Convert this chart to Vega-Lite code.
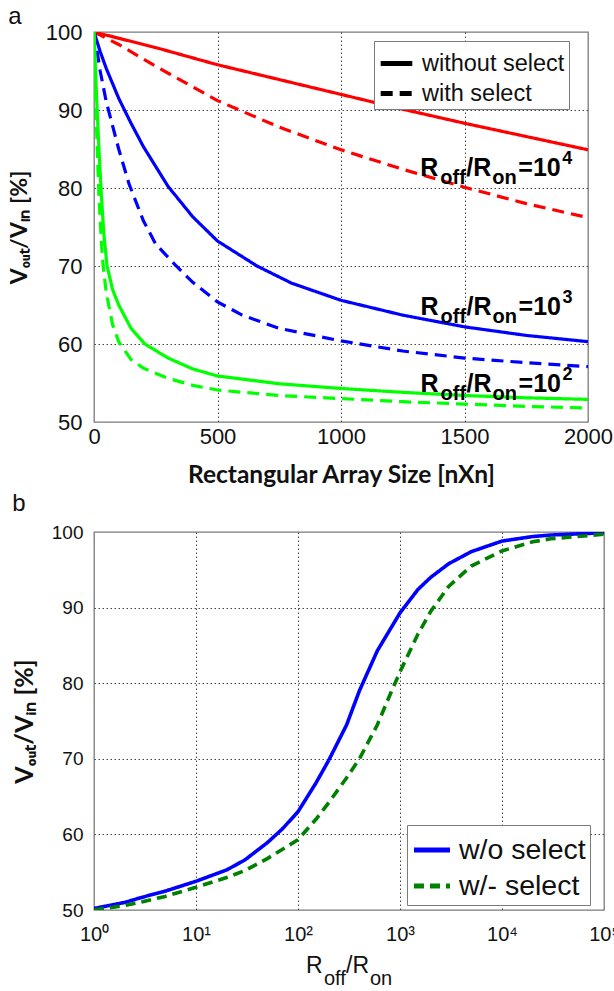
{
  "$schema": "https://vega.github.io/schema/vega-lite/v6.json",
  "padding": {"left": 7, "top": 4, "right": 0, "bottom": 0},
  "background": "white",
  "spacing": 3,
  "columns": 1,
  "align": "none",
  "resolve": {
    "scale": {"color": "independent", "strokeDash": "independent", "x": "independent", "y": "independent"},
    "legend": {"color": "independent", "strokeDash": "independent"}
  },
  "config": {
    "font": "Liberation Sans",
    "view": {"stroke": "#7a7a7a", "strokeWidth": 1.3},
    "axis": {
      "grid": true, "gridColor": "#333333", "gridDash": [1.5, 2.5], "gridWidth": 0.9,
      "domain": false, "ticks": false, "labelColor": "#111111", "titleColor": "#111111",
      "labelFont": "Liberation Sans", "labelFlush": false
    },
    "legend": {"strokeColor": "#7a7a7a", "fillColor": "white", "labelFont": "Liberation Sans", "labelColor": "#111111"}
  },
  "datasets": {
    "curvesA": [
      {"r": "1e4", "s": "without select", "n": 0, "v": 100},
      {"r": "1e4", "s": "without select", "n": 250, "v": 98.0},
      {"r": "1e4", "s": "without select", "n": 500, "v": 95.8},
      {"r": "1e4", "s": "without select", "n": 750, "v": 93.9},
      {"r": "1e4", "s": "without select", "n": 1000, "v": 92.0},
      {"r": "1e4", "s": "without select", "n": 1250, "v": 90.1},
      {"r": "1e4", "s": "without select", "n": 1500, "v": 88.3},
      {"r": "1e4", "s": "without select", "n": 1750, "v": 86.6},
      {"r": "1e4", "s": "without select", "n": 2000, "v": 84.9},
      {"r": "1e4", "s": "with select", "n": 0, "v": 100},
      {"r": "1e4", "s": "with select", "n": 100, "v": 98.4},
      {"r": "1e4", "s": "with select", "n": 250, "v": 95.6},
      {"r": "1e4", "s": "with select", "n": 500, "v": 91.2},
      {"r": "1e4", "s": "with select", "n": 750, "v": 87.8},
      {"r": "1e4", "s": "with select", "n": 1000, "v": 84.9},
      {"r": "1e4", "s": "with select", "n": 1250, "v": 82.4},
      {"r": "1e4", "s": "with select", "n": 1500, "v": 80.1},
      {"r": "1e4", "s": "with select", "n": 1750, "v": 78.0},
      {"r": "1e4", "s": "with select", "n": 2000, "v": 76.2},
      {"r": "1e3", "s": "without select", "n": 0, "v": 100},
      {"r": "1e3", "s": "without select", "n": 25, "v": 97.5},
      {"r": "1e3", "s": "without select", "n": 50, "v": 95.3},
      {"r": "1e3", "s": "without select", "n": 100, "v": 91.5},
      {"r": "1e3", "s": "without select", "n": 150, "v": 88.3},
      {"r": "1e3", "s": "without select", "n": 200, "v": 85.3},
      {"r": "1e3", "s": "without select", "n": 300, "v": 80.2},
      {"r": "1e3", "s": "without select", "n": 400, "v": 76.3},
      {"r": "1e3", "s": "without select", "n": 500, "v": 73.2},
      {"r": "1e3", "s": "without select", "n": 660, "v": 70.0},
      {"r": "1e3", "s": "without select", "n": 800, "v": 67.8},
      {"r": "1e3", "s": "without select", "n": 1000, "v": 65.6},
      {"r": "1e3", "s": "without select", "n": 1250, "v": 63.7},
      {"r": "1e3", "s": "without select", "n": 1500, "v": 62.2},
      {"r": "1e3", "s": "without select", "n": 1750, "v": 61.1},
      {"r": "1e3", "s": "without select", "n": 2000, "v": 60.3},
      {"r": "1e3", "s": "with select", "n": 0, "v": 100},
      {"r": "1e3", "s": "with select", "n": 25, "v": 95.0},
      {"r": "1e3", "s": "with select", "n": 50, "v": 91.0},
      {"r": "1e3", "s": "with select", "n": 100, "v": 85.0},
      {"r": "1e3", "s": "with select", "n": 142, "v": 80.5},
      {"r": "1e3", "s": "with select", "n": 200, "v": 75.8},
      {"r": "1e3", "s": "with select", "n": 250, "v": 72.8},
      {"r": "1e3", "s": "with select", "n": 333, "v": 70.0},
      {"r": "1e3", "s": "with select", "n": 400, "v": 67.9},
      {"r": "1e3", "s": "with select", "n": 500, "v": 65.4},
      {"r": "1e3", "s": "with select", "n": 600, "v": 63.7},
      {"r": "1e3", "s": "with select", "n": 750, "v": 62.0},
      {"r": "1e3", "s": "with select", "n": 1000, "v": 60.4},
      {"r": "1e3", "s": "with select", "n": 1250, "v": 59.1},
      {"r": "1e3", "s": "with select", "n": 1500, "v": 58.2},
      {"r": "1e3", "s": "with select", "n": 1750, "v": 57.6},
      {"r": "1e3", "s": "with select", "n": 2000, "v": 57.1},
      {"r": "1e2", "s": "without select", "n": 0, "v": 100},
      {"r": "1e2", "s": "without select", "n": 10, "v": 92.0},
      {"r": "1e2", "s": "without select", "n": 20, "v": 85.0},
      {"r": "1e2", "s": "without select", "n": 30, "v": 79.0},
      {"r": "1e2", "s": "without select", "n": 40, "v": 74.0},
      {"r": "1e2", "s": "without select", "n": 53, "v": 70.0},
      {"r": "1e2", "s": "without select", "n": 75, "v": 67.0},
      {"r": "1e2", "s": "without select", "n": 100, "v": 65.0},
      {"r": "1e2", "s": "without select", "n": 150, "v": 62.0},
      {"r": "1e2", "s": "without select", "n": 206, "v": 60.0},
      {"r": "1e2", "s": "without select", "n": 300, "v": 58.2},
      {"r": "1e2", "s": "without select", "n": 400, "v": 56.8},
      {"r": "1e2", "s": "without select", "n": 500, "v": 55.9},
      {"r": "1e2", "s": "without select", "n": 750, "v": 54.9},
      {"r": "1e2", "s": "without select", "n": 1000, "v": 54.3},
      {"r": "1e2", "s": "without select", "n": 1250, "v": 53.8},
      {"r": "1e2", "s": "without select", "n": 1500, "v": 53.4},
      {"r": "1e2", "s": "without select", "n": 1750, "v": 53.1},
      {"r": "1e2", "s": "without select", "n": 2000, "v": 52.9},
      {"r": "1e2", "s": "with select", "n": 0, "v": 100},
      {"r": "1e2", "s": "with select", "n": 10, "v": 88.0},
      {"r": "1e2", "s": "with select", "n": 20, "v": 79.0},
      {"r": "1e2", "s": "with select", "n": 30, "v": 73.0},
      {"r": "1e2", "s": "with select", "n": 37, "v": 70.0},
      {"r": "1e2", "s": "with select", "n": 50, "v": 66.5},
      {"r": "1e2", "s": "with select", "n": 75, "v": 62.5},
      {"r": "1e2", "s": "with select", "n": 100, "v": 60.3},
      {"r": "1e2", "s": "with select", "n": 150, "v": 58.0},
      {"r": "1e2", "s": "with select", "n": 200, "v": 56.9},
      {"r": "1e2", "s": "with select", "n": 300, "v": 55.6},
      {"r": "1e2", "s": "with select", "n": 400, "v": 54.7},
      {"r": "1e2", "s": "with select", "n": 500, "v": 54.1},
      {"r": "1e2", "s": "with select", "n": 750, "v": 53.4},
      {"r": "1e2", "s": "with select", "n": 1000, "v": 53.0},
      {"r": "1e2", "s": "with select", "n": 1250, "v": 52.6},
      {"r": "1e2", "s": "with select", "n": 1500, "v": 52.3},
      {"r": "1e2", "s": "with select", "n": 1750, "v": 52.0},
      {"r": "1e2", "s": "with select", "n": 2000, "v": 51.8}
    ],
    "annA": [
      {"n": 1321, "v": 81.5, "exp": "4"},
      {"n": 1322, "v": 63.75, "exp": "3"},
      {"n": 1322, "v": 53.8, "exp": "2"}
    ],
    "curvesB": [
      {"s": "w/o select", "x": 1, "v": 50.2},
      {"s": "w/o select", "x": 2, "v": 51.0},
      {"s": "w/o select", "x": 3, "v": 51.7},
      {"s": "w/o select", "x": 5, "v": 52.5},
      {"s": "w/o select", "x": 10, "v": 53.8},
      {"s": "w/o select", "x": 20, "v": 55.3},
      {"s": "w/o select", "x": 30, "v": 56.6},
      {"s": "w/o select", "x": 50, "v": 58.9},
      {"s": "w/o select", "x": 70, "v": 60.7},
      {"s": "w/o select", "x": 100, "v": 63.0},
      {"s": "w/o select", "x": 150, "v": 66.8},
      {"s": "w/o select", "x": 200, "v": 69.8},
      {"s": "w/o select", "x": 300, "v": 74.5},
      {"s": "w/o select", "x": 400, "v": 79.0},
      {"s": "w/o select", "x": 600, "v": 84.3},
      {"s": "w/o select", "x": 1000, "v": 89.3},
      {"s": "w/o select", "x": 1500, "v": 92.4},
      {"s": "w/o select", "x": 2000, "v": 94.0},
      {"s": "w/o select", "x": 3000, "v": 95.8},
      {"s": "w/o select", "x": 5000, "v": 97.4},
      {"s": "w/o select", "x": 10000, "v": 98.8},
      {"s": "w/o select", "x": 20000, "v": 99.4},
      {"s": "w/o select", "x": 30000, "v": 99.6},
      {"s": "w/o select", "x": 100000, "v": 99.9},
      {"s": "w/- select", "x": 1, "v": 50.0},
      {"s": "w/- select", "x": 2, "v": 50.6},
      {"s": "w/- select", "x": 3, "v": 51.1},
      {"s": "w/- select", "x": 5, "v": 51.8},
      {"s": "w/- select", "x": 10, "v": 53.0},
      {"s": "w/- select", "x": 20, "v": 54.3},
      {"s": "w/- select", "x": 30, "v": 55.2},
      {"s": "w/- select", "x": 50, "v": 56.8},
      {"s": "w/- select", "x": 70, "v": 58.0},
      {"s": "w/- select", "x": 100, "v": 59.3},
      {"s": "w/- select", "x": 150, "v": 62.0},
      {"s": "w/- select", "x": 200, "v": 64.2},
      {"s": "w/- select", "x": 300, "v": 67.5},
      {"s": "w/- select", "x": 400, "v": 70.0},
      {"s": "w/- select", "x": 600, "v": 74.5},
      {"s": "w/- select", "x": 800, "v": 78.5},
      {"s": "w/- select", "x": 1000, "v": 81.5},
      {"s": "w/- select", "x": 1500, "v": 86.5},
      {"s": "w/- select", "x": 2000, "v": 89.5},
      {"s": "w/- select", "x": 3000, "v": 92.8},
      {"s": "w/- select", "x": 5000, "v": 95.5},
      {"s": "w/- select", "x": 10000, "v": 97.5},
      {"s": "w/- select", "x": 20000, "v": 98.7},
      {"s": "w/- select", "x": 30000, "v": 99.1},
      {"s": "w/- select", "x": 100000, "v": 99.7}
    ],
    "titleB": [{"x": 316.2, "v": 50}]
  },
  "concat": [
    {
      "width": 494,
      "height": 390,
      "title": {"text": "a", "anchor": "start", "frame": "bounds", "fontSize": 24, "fontWeight": "normal", "font": "Liberation Sans", "offset": -8, "color": "#111111"},
      "layer": [
        {
          "data": {"name": "curvesA"},
          "mark": {"type": "line", "strokeWidth": 3.2, "clip": true},
          "encoding": {
            "x": {"field": "n", "type": "quantitative", "scale": {"domain": [0, 2000], "nice": false, "zero": false},
              "axis": {"title": "Rectangular Array Size [nXn]", "values": [0, 500, 1000, 1500, 2000], "format": "d", "labelFontSize": 22, "labelPadding": 4,
                "titleFont": "Lato", "titleFontWeight": "bold", "titleFontSize": 24.5, "titlePadding": 16,
                "gridOpacity": {"condition": {"test": "datum.value == 0 || datum.value == 2000", "value": 0}, "value": 1}}},
            "y": {"field": "v", "type": "quantitative", "scale": {"domain": [50, 100], "nice": false, "zero": false},
              "axis": {"title": "Vₒᵤₜ/Vᵢₙ [%]", "values": [50, 60, 70, 80, 90, 100], "labelFontSize": 22, "labelPadding": 12,
                "titleFont": "Lato", "titleFontWeight": "bold", "titleFontSize": 23, "titlePadding": 14,
                "gridOpacity": {"condition": {"test": "datum.value == 50 || datum.value == 100", "value": 0}, "value": 1}}},
            "color": {"field": "r", "type": "nominal", "scale": {"domain": ["1e2", "1e3", "1e4"], "range": ["#00ff00", "#0000ff", "#ff0000"]}, "legend": null},
            "strokeDash": {"field": "s", "type": "nominal", "scale": {"domain": ["without select", "with select"], "range": [[1, 0], [12, 7]]},
              "legend": {"title": null, "orient": "none", "legendX": 280, "legendY": 9, "labelFontSize": 23.5, "symbolType": "stroke",
                "symbolSize": 1000, "symbolStrokeWidth": 5, "symbolStrokeColor": "black", "padding": 4, "rowPadding": 0, "labelOffset": 7}}
          }
        },
        {
          "data": {"name": "annA"},
          "mark": {"type": "text", "text": "R", "fontSize": 25, "fontWeight": "bold", "align": "left", "baseline": "alphabetic", "color": "black"},
          "encoding": {"x": {"field": "n", "type": "quantitative"}, "y": {"field": "v", "type": "quantitative"}}
        },
        {
          "data": {"name": "annA"},
          "mark": {"type": "text", "text": "off", "fontSize": 20, "fontWeight": "bold", "align": "left", "baseline": "alphabetic", "dx": 20, "dy": 8, "color": "black"},
          "encoding": {"x": {"field": "n", "type": "quantitative"}, "y": {"field": "v", "type": "quantitative"}}
        },
        {
          "data": {"name": "annA"},
          "mark": {"type": "text", "text": "/R", "fontSize": 25, "fontWeight": "bold", "align": "left", "baseline": "alphabetic", "dx": 46, "color": "black"},
          "encoding": {"x": {"field": "n", "type": "quantitative"}, "y": {"field": "v", "type": "quantitative"}}
        },
        {
          "data": {"name": "annA"},
          "mark": {"type": "text", "text": "on", "fontSize": 20, "fontWeight": "bold", "align": "left", "baseline": "alphabetic", "dx": 72, "dy": 8, "color": "black"},
          "encoding": {"x": {"field": "n", "type": "quantitative"}, "y": {"field": "v", "type": "quantitative"}}
        },
        {
          "data": {"name": "annA"},
          "mark": {"type": "text", "text": "=10", "fontSize": 25, "fontWeight": "bold", "align": "left", "baseline": "alphabetic", "dx": 98, "color": "black"},
          "encoding": {"x": {"field": "n", "type": "quantitative"}, "y": {"field": "v", "type": "quantitative"}}
        },
        {
          "data": {"name": "annA"},
          "mark": {"type": "text", "fontSize": 18, "fontWeight": "bold", "align": "left", "baseline": "alphabetic", "dx": 142, "dy": -12, "color": "black"},
          "encoding": {"x": {"field": "n", "type": "quantitative"}, "y": {"field": "v", "type": "quantitative"}, "text": {"field": "exp"}}
        }
      ]
    },
    {
      "width": 510,
      "height": 378,
      "title": {"text": "b", "anchor": "start", "frame": "bounds", "fontSize": 24, "fontWeight": "normal", "font": "Liberation Sans", "offset": 7, "color": "#111111"},
      "layer": [
        {
          "data": {"name": "curvesB"},
          "mark": {"type": "line", "strokeWidth": 3.6, "clip": true},
          "encoding": {
            "x": {"field": "x", "type": "quantitative", "scale": {"type": "log", "domain": [1, 100000], "nice": false},
              "axis": {"title": null, "values": [1, 10, 100, 1000, 10000, 100000], "labelFontSize": 20, "labelPadding": 14,
                "labelExpr": "'10' + ['⁰','¹','²','³','⁴','⁵'][round(log(datum.value)/LN10)]",
                "gridOpacity": {"condition": {"test": "datum.value == 1 || datum.value == 100000", "value": 0}, "value": 1}}},
            "y": {"field": "v", "type": "quantitative", "scale": {"domain": [50, 100], "nice": false, "zero": false},
              "axis": {"title": "Vₒᵤₜ/Vᵢₙ [%]", "values": [50, 60, 70, 80, 90, 100], "labelFontSize": 19, "labelPadding": 11,
                "titleFont": "Lato", "titleFontWeight": "bold", "titleFontSize": 25, "titlePadding": 14,
                "gridOpacity": {"condition": {"test": "datum.value == 50 || datum.value == 100", "value": 0}, "value": 1}}},
            "color": {"field": "s", "type": "nominal", "scale": {"domain": ["w/o select", "w/- select"], "range": ["#0000ff", "#008000"]},
              "legend": {"title": null, "orient": "none", "legendX": 313, "legendY": 293, "labelFontSize": 28.5, "symbolType": "stroke",
                "symbolSize": 1300, "symbolStrokeWidth": 5, "padding": 4, "rowPadding": 0, "labelOffset": 6}},
            "strokeDash": {"field": "s", "type": "nominal", "scale": {"domain": ["w/o select", "w/- select"], "range": [[1, 0], [10, 6]]},
              "legend": {"title": null, "orient": "none", "legendX": 313, "legendY": 293, "labelFontSize": 28.5, "symbolType": "stroke",
                "symbolSize": 1300, "symbolStrokeWidth": 5, "padding": 4, "rowPadding": 0, "labelOffset": 6}}
          }
        },
        {
          "data": {"name": "titleB"},
          "mark": {"type": "text", "text": "R", "fontSize": 23, "align": "left", "baseline": "alphabetic", "dx": -43, "dy": 63, "color": "#111111"},
          "encoding": {"x": {"field": "x", "type": "quantitative"}, "y": {"field": "v", "type": "quantitative"}}
        },
        {
          "data": {"name": "titleB"},
          "mark": {"type": "text", "text": "off", "fontSize": 20, "align": "left", "baseline": "alphabetic", "dx": -25, "dy": 75, "color": "#111111"},
          "encoding": {"x": {"field": "x", "type": "quantitative"}, "y": {"field": "v", "type": "quantitative"}}
        },
        {
          "data": {"name": "titleB"},
          "mark": {"type": "text", "text": "/R", "fontSize": 23, "align": "left", "baseline": "alphabetic", "dx": -3, "dy": 63, "color": "#111111"},
          "encoding": {"x": {"field": "x", "type": "quantitative"}, "y": {"field": "v", "type": "quantitative"}}
        },
        {
          "data": {"name": "titleB"},
          "mark": {"type": "text", "text": "on", "fontSize": 20, "align": "left", "baseline": "alphabetic", "dx": 21, "dy": 75, "color": "#111111"},
          "encoding": {"x": {"field": "x", "type": "quantitative"}, "y": {"field": "v", "type": "quantitative"}}
        }
      ]
    }
  ]
}
